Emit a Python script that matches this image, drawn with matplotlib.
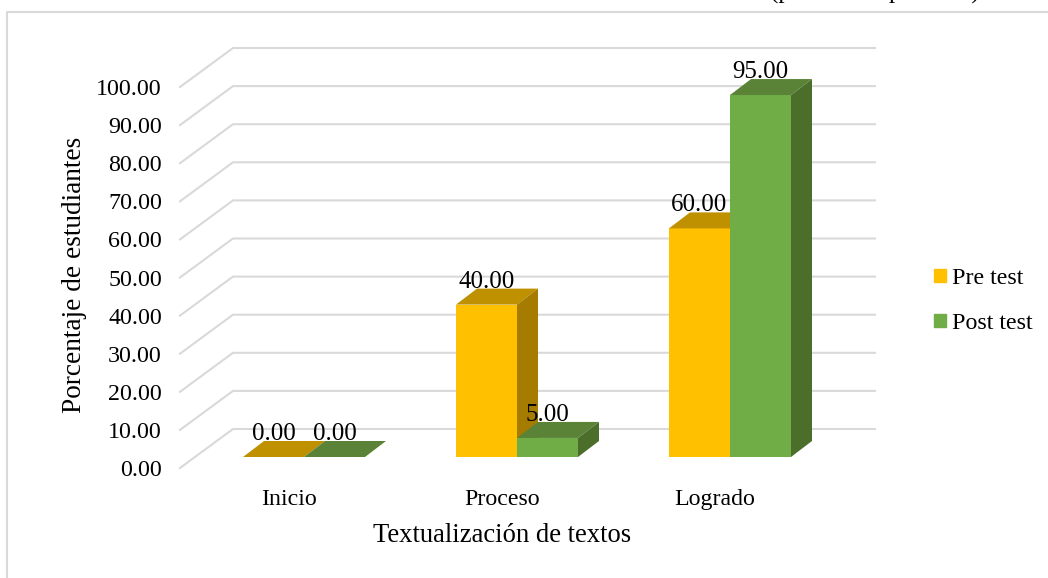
import matplotlib
matplotlib.use("Agg")
import matplotlib.pyplot as plt
from matplotlib.patches import Polygon, Patch
from matplotlib.lines import Line2D

plt.rcParams['font.family'] = ['Liberation Serif', 'DejaVu Serif']

categories = ["Inicio", "Proceso", "Logrado"]
pre_test = [0.00, 40.00, 60.00]
post_test = [0.00, 5.00, 95.00]
y_ticks = [0, 10, 20, 30, 40, 50, 60, 70, 80, 90, 100]

W, H = 1048, 578
PX_X = 213.0   # pixels per category
PX_Y = 3.81    # pixels per percent


def dx(px):
    return px/PX_X


def dy(px):
    return px/PX_Y


fig = plt.figure(figsize=(W/100, H/100), dpi=100)
ax = fig.add_axes([180/W, (H-468)/H, 642/W, 381/H])
x_left = dx(180-289)
x_right = x_left + dx(642)
ax.set_xlim(x_left, x_right)
ax.set_ylim(0, 100)
ax.patch.set_alpha(0)
for s in ax.spines.values():
    s.set_visible(False)

ax.set_xticks(range(len(categories)))
ax.set_xticklabels(categories, fontsize=17.2)
ax.set_yticks(y_ticks)
ax.set_yticklabels([f"{v:.2f}" for v in y_ticks], fontsize=17.3)
ax.tick_params(axis='both', length=0, colors='black')
ax.tick_params(axis='y', pad=13)
ax.tick_params(axis='x', pad=15)

# back wall and left side grid
GRID = '#d9d9d9'
for v in y_ticks:
    ax.plot([x_left, x_left+dx(53), x_right+dx(53)], [v, v+dy(39), v+dy(39)], color=GRID,
            lw=1.5, clip_on=False, zorder=1)

bar_w = dx(61)
ox, oy = dx(15), dy(11)
ddx, ddy = dx(21), dy(16)


def bar3d(x0, val, front, top, side, z):
    y0 = oy
    y1 = oy+val
    x1 = x0+bar_w
    ax.bar(x0, val, width=bar_w, bottom=y0, align='edge', color=front, zorder=z, clip_on=False)
    ax.add_patch(Polygon([(x0, y1), (x1, y1), (x1+ddx, y1+ddy), (x0+ddx, y1+ddy)],
                         closed=True, fc=top, ec='none', zorder=z, clip_on=False))
    ax.add_patch(Polygon([(x1, y0), (x1+ddx, y0+ddy), (x1+ddx, y1+ddy), (x1, y1)],
                         closed=True, fc=side, ec='none', zorder=z, clip_on=False))
    ax.text(x0+bar_w/2, y1+ddy+dy(1), f"{val:.2f}", ha='center', va='baseline',
            fontsize=18, color='black', zorder=10)


for i in range(len(categories)):
    # pre test bar first so post test overlaps its side
    bar3d(i+ox-bar_w, pre_test[i], '#ffc000', '#bf9000', '#a67c00', 3+i)
    bar3d(i+ox, post_test[i], '#70ad47', '#5a8337', '#4b6f2b', 3.5+i)

fig.text(502/W, (H-535)/H, "Textualización de textos", fontsize=19.2, ha='center', va='center')
fig.text(75/W, (H-275)/H, "Porcentaje de estudiantes", fontsize=19.6, ha='center', va='center',
         rotation=90)

# chart frame, cut at the right and the bottom
fig.add_artist(Line2D([7/W, 7/W, 1], [0, (H-12)/H, (H-12)/H], color=GRID, lw=1.5))

# caption above the chart, only its descenders are left in the crop
fig.text(770/W, (H+1)/H, "(pre test  –  post test)", fontsize=18, ha='left', va='baseline')

handles = [Patch(color='#ffc000', label='Pre test'), Patch(color='#70ad47', label='Post test')]
fig.legend(handles=handles, loc='center left', bbox_to_anchor=(934/W, (H-301)/H), frameon=False,
           fontsize=17.3, handlelength=0.5, handleheight=0.5, handletextpad=0.25,
           labelspacing=1.0, borderpad=0, borderaxespad=0)

fig.savefig("out.png", dpi=100)
